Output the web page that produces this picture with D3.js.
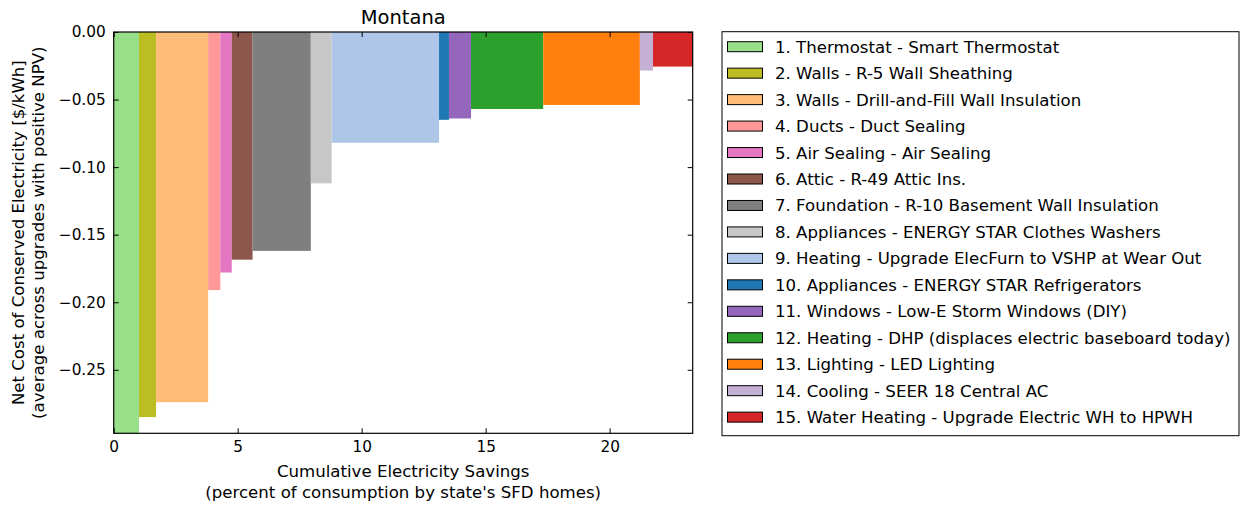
<!DOCTYPE html>
<html><head><meta charset="utf-8">
<script src="https://cdn.jsdelivr.net/npm/d3@7"></script>
<style>body{margin:0;background:#fff}svg{display:block;font-family:"DejaVu Sans",sans-serif}</style>
</head><body><svg id="c" width="1245" height="508"></svg>
<script>
const measures = ["1. Thermostat - Smart Thermostat","2. Walls - R-5 Wall Sheathing","3. Walls - Drill-and-Fill Wall Insulation","4. Ducts - Duct Sealing","5. Air Sealing - Air Sealing","6. Attic - R-49 Attic Ins.","7. Foundation - R-10 Basement Wall Insulation","8. Appliances - ENERGY STAR Clothes Washers","9. Heating - Upgrade ElecFurn to VSHP at Wear Out","10. Appliances - ENERGY STAR Refrigerators","11. Windows - Low-E Storm Windows (DIY)","12. Heating - DHP (displaces electric baseboard today)","13. Lighting - LED Lighting","14. Cooling - SEER 18 Central AC","15. Water Heating - Upgrade Electric WH to HPWH"];
const savings = [1.02,0.69,2.10,0.49,0.46,0.84,2.35,0.84,4.33,0.40,0.89,2.91,3.90,0.53,1.60];
const costs = [-0.297,-0.285,-0.274,-0.191,-0.178,-0.1685,-0.162,-0.112,-0.082,-0.065,-0.064,-0.057,-0.054,-0.0285,-0.0256];
const xTicks = [0,5,10,15,20];
const yTicks = [0,-0.05,-0.10,-0.15,-0.20,-0.25];
const palette = ["#98df8a","#bcbd22","#ffbb78","#ff9896","#e377c2","#8c564b","#7f7f7f","#c7c7c7","#aec7e8","#1f77b4","#9467bd","#2ca02c","#ff7f0e","#c5b0d5","#d62728"];

const svg = d3.select("#c");
const L=113.7, R=692.7, T=32, B=433.3;
let cum=0; const starts = savings.map(s=>{const v=cum; cum+=s; return v;});
const x = d3.scaleLinear().domain([0,cum]).range([L,R]);
const y = d3.scaleLinear().domain([d3.min(costs),0]).range([B,T]);

svg.append("g").selectAll("rect").data(measures).join("rect")
  .attr("x",(d,i)=>x(starts[i])).attr("width",(d,i)=>x(starts[i]+savings[i])-x(starts[i]))
  .attr("y",T).attr("height",(d,i)=>y(costs[i])-T)
  .attr("fill",(d,i)=>palette[i]);

const fs=15.3, lfs=16.6;
const ax = svg.append("g").attr("transform",`translate(0,${B})`).call(d3.axisBottom(x).tickValues(xTicks).tickFormat(d3.format("d")).tickSizeInner(-5).tickSizeOuter(0).tickPadding(8));
const axT = svg.append("g").attr("transform",`translate(0,${T})`).call(d3.axisTop(x).tickValues(xTicks).tickFormat("").tickSizeInner(-5).tickSizeOuter(0));
const ay = svg.append("g").attr("transform",`translate(${L},0)`).call(d3.axisLeft(y).tickValues(yTicks).tickFormat(d3.format(".2f")).tickSizeInner(-5).tickSizeOuter(0).tickPadding(8));
const ayR = svg.append("g").attr("transform",`translate(${R},0)`).call(d3.axisRight(y).tickValues(yTicks).tickFormat("").tickSizeInner(-5).tickSizeOuter(0));
[ax,axT,ay,ayR].forEach(g=>{g.select(".domain").remove();g.selectAll("text").attr("font-size",fs).attr("fill","#000").attr("font-family","DejaVu Sans");g.selectAll("line").attr("stroke","#000");});
svg.append("rect").attr("x",L).attr("y",T).attr("width",R-L).attr("height",B-T).attr("fill","none").attr("stroke","#000").attr("stroke-width",1.2);

svg.append("text").attr("x",(L+R)/2).attr("y",24).attr("text-anchor","middle").attr("font-size",19.5).text("Montana");
svg.append("text").attr("x",(L+R)/2).attr("y",477).attr("text-anchor","middle").attr("font-size",lfs).text("Cumulative Electricity Savings");
svg.append("text").attr("x",(L+R)/2).attr("y",498).attr("text-anchor","middle").attr("font-size",lfs).text("(percent of consumption by state's SFD homes)");
const yl = svg.append("text").attr("transform",`translate(0,${(T+B)/2}) rotate(-90)`).attr("text-anchor","middle").attr("font-size",lfs);
yl.append("tspan").attr("x",0).attr("y",24).text("Net Cost of Conserved Electricity [$/kWh]");
yl.append("tspan").attr("x",0).attr("y",44).text("(average across upgrades with positive NPV)");

const lg = svg.append("g");
lg.append("rect").attr("x",722).attr("y",31.7).attr("width",517).attr("height",404).attr("fill","#fff").attr("stroke","#000").attr("stroke-width",1);
const rows = lg.selectAll("g.r").data(measures).join("g").attr("transform",(d,i)=>`translate(0,${46.7+i*26.46})`);
rows.append("rect").attr("x",727.5).attr("y",-5).attr("width",35).attr("height",10).attr("fill",(d,i)=>palette[i]).attr("stroke","#000").attr("stroke-width",1);
rows.append("text").attr("x",775).attr("y",6).attr("font-size",lfs).attr("textLength",null).text(d=>d);
</script></body></html>
